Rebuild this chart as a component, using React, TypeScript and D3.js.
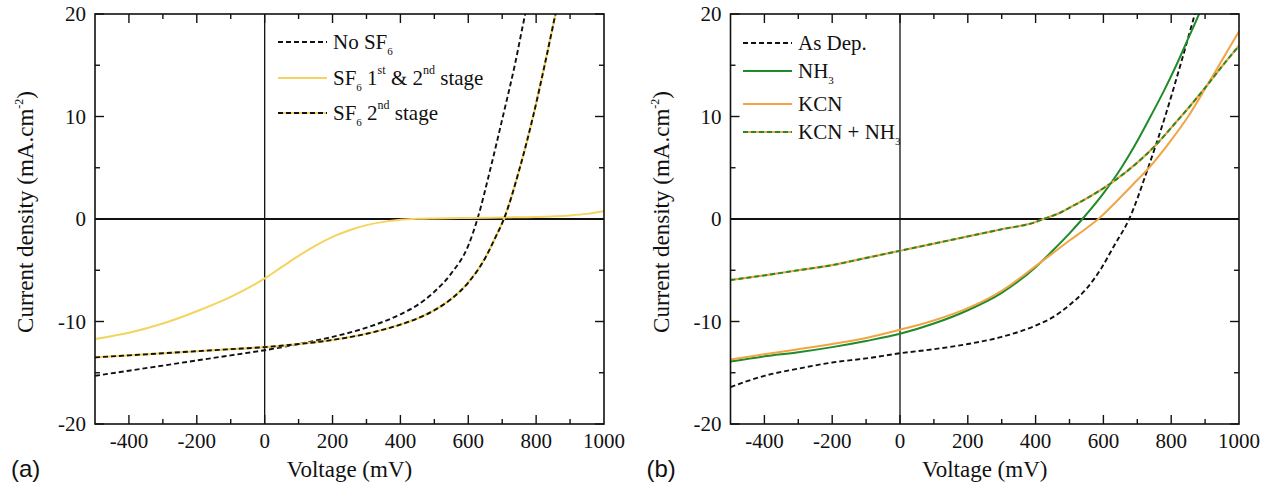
import React from 'react';
import * as d3 from 'd3';

type Pt = [number, number];

// ---- axis ticks ----
const xTickLabels = [-400, -200, 0, 200, 400, 600, 800, 1000];
const xMinorTicks = [-400, -300, -200, -100, 0, 100, 200, 300, 400, 500, 600, 700, 800, 900];
const yTickLabels = [-20, -10, 0, 10, 20];
const yMinorTicks = [-15, -5, 5, 15];

// ---- panel (a): J-V curves, SF6 treatment ----
const noSF6: Pt[] = [
  [-500, -15.3], [-400, -14.8], [-300, -14.3], [-200, -13.8], [-100, -13.3], [0, -12.8],
  [100, -12.2], [200, -11.5], [300, -10.6], [400, -9.3], [450, -8.4], [500, -7.1],
  [550, -5.3], [600, -2.6], [627, 0], [666, 5], [702, 10], [737, 15], [768, 20], [785, 22.4],
];
const sf6FirstSecond: Pt[] = [
  [-500, -11.7], [-400, -11.1], [-300, -10.2], [-200, -9.0], [-100, -7.6], [0, -5.8],
  [50, -4.7], [100, -3.6], [150, -2.6], [200, -1.75], [250, -1.1], [300, -0.6],
  [350, -0.28], [400, -0.08], [450, 0.02], [500, 0.06], [600, 0.1], [700, 0.15], [800, 0.2],
  [900, 0.35], [950, 0.5], [1000, 0.75],
];
const sf6Second: Pt[] = [
  [-500, -13.5], [-400, -13.3], [-300, -13.1], [-200, -12.9], [-100, -12.7], [0, -12.5],
  [100, -12.2], [200, -11.8], [300, -11.2], [400, -10.3], [450, -9.7], [500, -8.9],
  [550, -7.8], [600, -6.2], [650, -3.8], [680, -1.8], [705, 0], [752, 5], [791, 10],
  [825, 15], [857, 20], [875, 22.8],
];

// ---- panel (b): J-V curves, etching treatments ----
const asDep: Pt[] = [
  [-500, -16.4], [-400, -15.3], [-300, -14.6], [-200, -14.0], [-100, -13.6], [0, -13.1],
  [100, -12.7], [200, -12.2], [300, -11.5], [400, -10.4], [450, -9.6], [500, -8.4],
  [550, -6.8], [594, -4.8], [630, -2.7], [676, 0], [732, 5], [782, 10], [827, 15],
  [870, 20], [890, 22.2],
];
const nh3: Pt[] = [
  [-500, -13.9], [-400, -13.4], [-300, -13.0], [-200, -12.5], [-100, -11.9], [0, -11.2],
  [100, -10.2], [200, -8.9], [300, -7.2], [400, -4.7], [450, -3.1], [500, -1.4],
  [538, 0], [600, 2.5], [653, 5], [700, 7.6], [739, 10], [780, 12.6], [815, 15],
  [850, 17.6], [882, 20], [900, 21.5],
];
const kcn: Pt[] = [
  [-500, -13.7], [-400, -13.2], [-300, -12.7], [-200, -12.2], [-100, -11.6], [0, -10.8],
  [100, -9.9], [200, -8.7], [300, -7.0], [400, -4.6], [450, -3.35], [500, -2.1],
  [550, -0.9], [585, 0], [650, 2.1], [700, 3.8], [732, 4.9], [800, 7.7], [850, 10],
  [900, 12.7], [950, 15.5], [1000, 18.3],
];
const kcnNh3: Pt[] = [
  [-500, -5.95], [-400, -5.5], [-300, -5.0], [-200, -4.5], [-100, -3.8], [0, -3.1],
  [100, -2.4], [200, -1.7], [300, -1.0], [400, -0.3], [423, 0], [472, 0.6], [500, 1.1],
  [550, 2.0], [600, 3.0], [629, 3.65], [700, 5.5], [757, 7.3], [800, 8.9], [850, 10.8],
  [900, 12.8], [950, 14.9], [1000, 16.9],
];

const BLACK = '#111111';
const YELLOW = '#f4d45e';
const GREEN = '#1f8b2a';
const ORANGE = '#f2a444';
const DASH = '5,3';

const SERIF = '"Liberation Serif", "Times New Roman", serif';
const SANS = '"Liberation Sans", Arial, sans-serif';

type Seg = { t: string; s?: 'sub' | 'sup' };
type Series = { data: Pt[]; color: string; dashed?: boolean; under?: string };
type LegendItem = { segs: Seg[]; series: Series };

const X_DOMAIN: [number, number] = [-500, 1000];
const Y_DOMAIN: [number, number] = [-20, 20];
const TOP = 14;
const BOTTOM = 424;

function RichText({ x, y, segs, size }: { x: number; y: number; segs: Seg[]; size: number }) {
  const parts: React.ReactNode[] = [];
  let shift = 0;
  segs.forEach((sg, i) => {
    let dy = 0;
    let fs = size;
    if (sg.s === 'sub') {
      dy = 6 - shift;
      shift = 6;
      fs = 11;
    } else if (sg.s === 'sup') {
      dy = -11 - shift;
      shift = -11;
      fs = 12;
    } else {
      dy = -shift;
      shift = 0;
    }
    parts.push(
      <tspan key={i} dy={dy} fontSize={fs}>
        {sg.t}
      </tspan>
    );
  });
  return (
    <text x={x} y={y} fontFamily={SERIF} fontSize={size} fill={BLACK}>
      {parts}
    </text>
  );
}

function Panel({
  id,
  left,
  right,
  series,
  legend,
  legendX,
  legendY,
  tag,
}: {
  id: string;
  left: number;
  right: number;
  series: Series[];
  legend: LegendItem[];
  legendX: number;
  legendY: number[];
  tag: string;
}) {
  const x = d3.scaleLinear().domain(X_DOMAIN).range([left, right]);
  const y = d3.scaleLinear().domain(Y_DOMAIN).range([BOTTOM, TOP]);
  const line = d3
    .line<Pt>()
    .x((d) => x(d[0]))
    .y((d) => y(d[1]))
    .curve(d3.curveMonotoneX);

  const major = 9;
  const minor = 5;
  const cx = (left + right) / 2;

  return (
    <g>
      <defs>
        <clipPath id={`clip-${id}`}>
          <rect x={left} y={TOP} width={right - left} height={BOTTOM - TOP} />
        </clipPath>
      </defs>

      {/* zero reference lines */}
      <line x1={x(0)} x2={x(0)} y1={TOP} y2={BOTTOM} stroke={BLACK} strokeWidth={1.3} />
      <line x1={left} x2={right} y1={y(0)} y2={y(0)} stroke={BLACK} strokeWidth={1.8} />

      {/* curves */}
      <g clipPath={`url(#clip-${id})`} fill="none">
        {series.map((s, i) => (
          <g key={i}>
            {s.under && <path d={line(s.data) || ''} stroke={s.under} strokeWidth={2.2} />}
            <path
              d={line(s.data) || ''}
              stroke={s.color}
              strokeWidth={s.dashed ? 1.9 : 2}
              strokeDasharray={s.dashed ? DASH : undefined}
            />
          </g>
        ))}
      </g>

      {/* frame */}
      <rect
        x={left}
        y={TOP}
        width={right - left}
        height={BOTTOM - TOP}
        fill="none"
        stroke={BLACK}
        strokeWidth={1.6}
      />

      {/* x ticks, inward on bottom and top */}
      {xMinorTicks.map((v) => {
        const len = xTickLabels.includes(v) ? major : minor;
        return (
          <g key={`xt${v}`} stroke={BLACK} strokeWidth={1.4}>
            <line x1={x(v)} x2={x(v)} y1={BOTTOM} y2={BOTTOM - len} />
            <line x1={x(v)} x2={x(v)} y1={TOP} y2={TOP + len} />
          </g>
        );
      })}
      {/* y ticks, inward on left and right */}
      {[...yTickLabels, ...yMinorTicks].map((v) => {
        const len = yTickLabels.includes(v) ? major : minor;
        return (
          <g key={`yt${v}`} stroke={BLACK} strokeWidth={1.4}>
            <line x1={left} x2={left + len} y1={y(v)} y2={y(v)} />
            <line x1={right} x2={right - len} y1={y(v)} y2={y(v)} />
          </g>
        );
      })}

      {/* tick labels */}
      {xTickLabels.map((v) => (
        <text
          key={`xl${v}`}
          x={x(v)}
          y={BOTTOM + 24}
          textAnchor="middle"
          fontFamily={SERIF}
          fontSize={21}
          fill={BLACK}
        >
          {String(v)}
        </text>
      ))}
      {yTickLabels.map((v) => (
        <text
          key={`yl${v}`}
          x={left - 9}
          y={y(v) + 7}
          textAnchor="end"
          fontFamily={SERIF}
          fontSize={21}
          fill={BLACK}
        >
          {String(v)}
        </text>
      ))}

      {/* axis titles */}
      <text x={cx} y={477} textAnchor="middle" fontFamily={SERIF} fontSize={23} fill={BLACK}>
        Voltage (mV)
      </text>
      <text
        transform={`translate(${left - 62},212) rotate(-90)`}
        textAnchor="middle"
        fontFamily={SERIF}
        fontSize={23}
        fill={BLACK}
      >
        <tspan>Current density (mA.cm</tspan>
        <tspan dy={-10} fontSize={12}>
          -2
        </tspan>
        <tspan dy={10}>)</tspan>
      </text>

      {/* panel tag */}
      <text x={left - 84} y={477} fontFamily={SANS} fontSize={24} fill={BLACK}>
        {tag}
      </text>

      {/* legend */}
      {legend.map((item, i) => {
        const ly = legendY[i];
        const s = item.series;
        return (
          <g key={`lg${i}`}>
            {s.under && (
              <line x1={legendX} x2={legendX + 49} y1={ly} y2={ly} stroke={s.under} strokeWidth={2.2} />
            )}
            <line
              x1={legendX}
              x2={legendX + 49}
              y1={ly}
              y2={ly}
              stroke={s.color}
              strokeWidth={s.dashed ? 1.9 : 2}
              strokeDasharray={s.dashed ? DASH : undefined}
            />
            <RichText x={legendX + 55} y={ly + 7} segs={item.segs} size={21} />
          </g>
        );
      })}
    </g>
  );
}

const sNoSF6: Series = { data: noSF6, color: BLACK, dashed: true };
const sSf6Both: Series = { data: sf6FirstSecond, color: YELLOW };
const sSf6Second: Series = { data: sf6Second, color: BLACK, dashed: true, under: YELLOW };

const sAsDep: Series = { data: asDep, color: BLACK, dashed: true };
const sNh3: Series = { data: nh3, color: GREEN };
const sKcn: Series = { data: kcn, color: ORANGE };
const sKcnNh3: Series = { data: kcnNh3, color: GREEN, dashed: true, under: ORANGE };

const legendA: LegendItem[] = [
  { segs: [{ t: 'No SF' }, { t: '6', s: 'sub' }], series: sNoSF6 },
  {
    segs: [
      { t: 'SF' },
      { t: '6', s: 'sub' },
      { t: ' 1' },
      { t: 'st', s: 'sup' },
      { t: ' & 2' },
      { t: 'nd', s: 'sup' },
      { t: ' stage' },
    ],
    series: sSf6Both,
  },
  {
    segs: [{ t: 'SF' }, { t: '6', s: 'sub' }, { t: ' 2' }, { t: 'nd', s: 'sup' }, { t: ' stage' }],
    series: sSf6Second,
  },
];

const legendB: LegendItem[] = [
  { segs: [{ t: 'As Dep.' }], series: sAsDep },
  { segs: [{ t: 'NH' }, { t: '3', s: 'sub' }], series: sNh3 },
  { segs: [{ t: 'KCN' }], series: sKcn },
  { segs: [{ t: 'KCN + NH' }, { t: '3', s: 'sub' }], series: sKcnNh3 },
];

export default function App() {
  return (
    <svg
      width={1272}
      height={498}
      viewBox="0 0 1272 498"
      style={{ position: 'absolute', left: 0, top: 0, background: '#ffffff' }}
    >
      <rect width={1272} height={498} fill="#ffffff" />
      <Panel
        id="a"
        left={95}
        right={604}
        series={[sNoSF6, sSf6Both, sSf6Second]}
        legend={legendA}
        legendX={278}
        legendY={[42, 78, 113]}
        tag="(a)"
      />
      <Panel
        id="b"
        left={730.5}
        right={1239}
        series={[sAsDep, sNh3, sKcn, sKcnNh3]}
        legend={legendB}
        legendX={743}
        legendY={[43, 71, 104, 132]}
        tag="(b)"
      />
    </svg>
  );
}
